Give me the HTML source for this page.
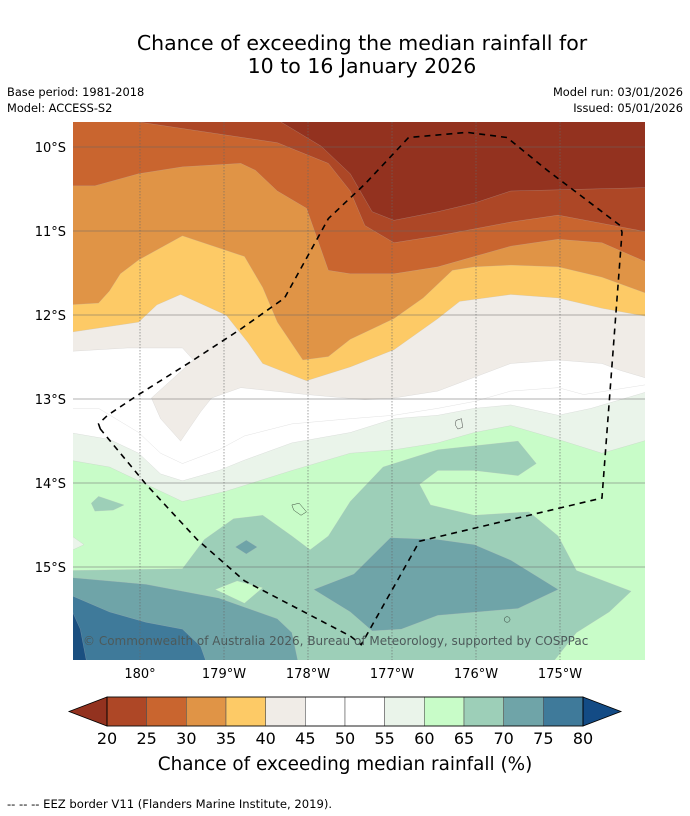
<!DOCTYPE html>
<html><head><meta charset="utf-8">
<style>
body{margin:0;background:#fff;width:690px;height:816px;overflow:hidden;font-family:"Liberation Sans","DejaVu Sans",sans-serif;}
svg{display:block}
text{font-family:"DejaVu Sans","Liberation Sans",sans-serif;fill:#000}
</style></head>
<body>
<svg id="fig" width="690" height="816" viewBox="0 0 690 816">
<text x="362" y="50" font-size="20.5" text-anchor="middle">Chance of exceeding the median rainfall for</text>
<text x="362" y="73" font-size="20.5" text-anchor="middle">10 to 16 January 2026</text>
<text x="7" y="96" font-size="11.4">Base period: 1981-2018</text>
<text x="7" y="112" font-size="11.4">Model: ACCESS-S2</text>
<text x="683" y="96" font-size="11.4" text-anchor="end">Model run: 03/01/2026</text>
<text x="683" y="112" font-size="11.4" text-anchor="end">Issued: 05/01/2026</text>

<defs><clipPath id="mc"><rect x="73" y="122" width="572" height="538"/></clipPath></defs>
<g clip-path="url(#mc)">
 <g transform="translate(73,122) scale(0.3648,0.3450)" stroke="#bbb" stroke-width="0.6" vector-effect="non-scaling-stroke">
  <rect x="-10" y="-10" width="1600" height="1600" fill="#c8fcc8"/>
  <path fill="#eaf4ea" d="M-10,-10 L-10,980 L100,1000 L180,1040 L300,1100 L420,1070 L600,1010 L760,960 L880,950 L1000,930 L1100,900 L1200,880 L1330,920 L1450,960 L1580,920 L1580,-10Z"/>
  <path fill="#eaf4ea" d="M-10,1195 L30,1225 L-10,1245Z"/>
  <path fill="#ffffff" d="M-10,-10 L-10,900 L100,920 L180,960 L240,1020 L300,1040 L400,1010 L470,980 L600,930 L760,900 L880,860 L1000,850 L1100,830 L1200,820 L1330,850 L1420,830 L1580,780 L1580,-10Z"/>
  <path fill="none" d="M-10,830 L70,830 L180,900 L240,960 L300,990 L400,950 L470,910 L600,875 L760,860 L880,850 L1000,830 L1100,810 L1200,780 L1330,770 L1400,790 L1580,760"/>
  <path fill="#f0ece7" d="M-10,-10 L-10,665 L150,655 L300,655 L330,690 L215,800 L240,860 L295,925 L350,840 L380,800 L460,770 L640,790 L800,805 L880,800 L1000,780 L1100,740 L1200,700 L1330,690 L1450,700 L1500,720 L1580,745 L1580,-10Z"/>
  <path fill="#fdca66" d="M-10,-10 L-10,610 L180,580 L230,530 L295,500 L420,560 L480,640 L520,700 L640,750 L760,710 L880,660 L1000,570 L1060,520 L1200,500 L1330,510 L1450,540 L1580,565 L1580,-10Z"/>
  <path fill="#e09446" d="M-10,-10 L-10,530 L70,525 L100,490 L130,440 L180,400 L300,330 L470,390 L520,480 L560,580 L630,690 L700,680 L760,630 L880,570 L960,510 L1040,430 L1100,420 L1200,415 L1330,420 L1450,450 L1580,500 L1580,-10Z"/>
  <path fill="#c9652f" d="M-10,-10 L-10,185 L60,185 L180,150 L300,130 L460,120 L500,140 L560,200 L640,250 L700,430 L760,440 L880,440 L1000,420 L1100,390 L1200,360 L1330,340 L1450,350 L1580,410 L1580,-10Z"/>
  <path fill="#ad4726" d="M180,-10 L180,0 L560,60 L700,120 L760,200 L800,300 L880,350 L1000,330 L1100,310 L1200,290 L1330,270 L1580,320 L1580,-10Z"/>
  <path fill="#93321f" d="M570,-10 L570,0 L680,70 L760,150 L820,260 L880,285 L1000,260 L1100,235 L1200,200 L1580,190 L1580,-10Z"/>
  <path fill="#9dcfb8" d="M-10,1300 L300,1295 L360,1210 L440,1150 L520,1140 L600,1200 L650,1240 L700,1200 L760,1100 L850,1000 L1000,950 L1220,925 L1270,990 L1220,1025 L1100,1010 L1000,1010 L950,1050 L980,1110 L1100,1140 L1250,1130 L1330,1200 L1380,1300 L1530,1360 L1470,1420 L1380,1480 L1320,1560 L1310,1580 L-10,1580Z"/>
  <path fill="#c8fcc8" d="M390,1355 L450,1330 L520,1350 L470,1395Z"/>
  <path fill="#9dcfb8" d="M50,1105 L70,1085 L140,1110 L110,1125 L60,1128Z"/>
  <path fill="#6fa4a8" d="M-10,1320 L200,1340 L400,1380 L560,1440 L600,1480 L620,1580 L-10,1580Z"/>
  <path fill="#6fa4a8" d="M660,1355 L770,1310 L870,1205 L1000,1210 L1100,1225 L1200,1270 L1330,1355 L1220,1410 L1000,1430 L900,1470 L820,1475 L760,1420Z"/>
  <path fill="#6fa4a8" d="M445,1232 L475,1212 L505,1232 L475,1252Z"/>
  <path fill="#3f7a9a" d="M-10,1370 L100,1420 L200,1450 L300,1470 L350,1520 L370,1580 L-10,1580Z"/>
  <path fill="#1a4f80" d="M-10,1400 L20,1470 L40,1580 L-10,1580Z"/>
  <g fill="none" stroke="#000" stroke-width="1">
   <path d="M600,1110 L620,1105 L640,1130 L625,1140 L605,1125Z"/>
   <path d="M1050,865 L1065,860 L1068,885 L1055,890 L1048,878Z"/>
   <circle cx="1190" cy="1442" r="8"/>
  </g>
 </g>
 <g stroke="#666" stroke-width="0.6">
  <g stroke-dasharray="1.5,1.5">
   <line x1="140" y1="122" x2="140" y2="660"/><line x1="224" y1="122" x2="224" y2="660"/><line x1="308" y1="122" x2="308" y2="660"/><line x1="392" y1="122" x2="392" y2="660"/><line x1="476" y1="122" x2="476" y2="660"/><line x1="560" y1="122" x2="560" y2="660"/>
  </g>
  <line x1="73" y1="147" x2="645" y2="147"/><line x1="73" y1="231" x2="645" y2="231"/><line x1="73" y1="315" x2="645" y2="315"/><line x1="73" y1="399" x2="645" y2="399"/><line x1="73" y1="483" x2="645" y2="483"/><line x1="73" y1="567" x2="645" y2="567"/>
 </g>
 <g transform="translate(73,122) scale(0.3648,0.3450)">
  <path fill="none" stroke="#000" stroke-width="1.6" stroke-dasharray="6,5" vector-effect="non-scaling-stroke" d="M75,890 L70,875 L95,850 L180,790 L330,690 L460,600 L580,510 L700,280 L800,180 L920,45 L1080,30 L1190,45 L1300,140 L1500,300 L1505,320 L1450,1090 L950,1215 L790,1515 L760,1490 L470,1330 L340,1210 L200,1050 L75,890"/>
 </g>
 <text x="83" y="645" font-size="12" style="fill:#4d5a5a">© Commonwealth of Australia 2026, Bureau of Meteorology, supported by COSPPac</text>
</g>

<g font-size="13">
 <text x="66" y="152" text-anchor="end">10°S</text><text x="66" y="236" text-anchor="end">11°S</text><text x="66" y="320" text-anchor="end">12°S</text><text x="66" y="404" text-anchor="end">13°S</text><text x="66" y="488" text-anchor="end">14°S</text><text x="66" y="572" text-anchor="end">15°S</text>
</g>
<g font-size="13" text-anchor="middle">
 <text x="140" y="678">180°</text><text x="224" y="678">179°W</text><text x="308" y="678">178°W</text><text x="392" y="678">177°W</text><text x="476" y="678">176°W</text><text x="560" y="678">175°W</text>
</g>

<g id="cbar"></g>
<text x="345" y="770" font-size="18.4" text-anchor="middle">Chance of exceeding median rainfall (%)</text>
<text x="7" y="808" font-size="11.6">--  --  -- EEZ border V11 (Flanders Marine Institute, 2019).</text>
</svg>
<script>
const levels = [20,25,30,35,40,45,50,55,60,65,70,75,80];
const binColors = ["#ae4726","#c9652f","#e09446","#fdca66","#f0ece7","#ffffff","#ffffff","#eaf4ea","#c8fcc8","#9dcfb8","#6fa4a8","#3f7a9a"];
const extendColors = ["#93321f","#134b85"];
const NS="http://www.w3.org/2000/svg";
const cb=document.getElementById('cbar');
const x0=107,x1=583,y0=697,h=29;
function sx(v){return x0+(v-levels[0])/(levels[levels.length-1]-levels[0])*(x1-x0);}
binColors.forEach((c,i)=>{
 const r=document.createElementNS(NS,'rect');
 r.setAttribute('x',sx(levels[i]));r.setAttribute('y',y0);r.setAttribute('width',sx(levels[i+1])-sx(levels[i]));r.setAttribute('height',h);
 r.setAttribute('fill',c);r.setAttribute('stroke','#555');r.setAttribute('stroke-width','0.6');
 
 
 cb.appendChild(r);
});
const tl=document.createElementNS(NS,'polygon');
tl.setAttribute('points',`${x0},${y0} ${x0-38},${y0+h/2} ${x0},${y0+h}`);tl.setAttribute('fill',extendColors[0]);tl.setAttribute('stroke','#000');tl.setAttribute('stroke-width','0.8');


cb.appendChild(tl);
const tr=document.createElementNS(NS,'polygon');
tr.setAttribute('points',`${x1},${y0} ${x1+38},${y0+h/2} ${x1},${y0+h}`);tr.setAttribute('fill',extendColors[1]);tr.setAttribute('stroke','#000');tr.setAttribute('stroke-width','0.8');


cb.appendChild(tr);
const outline=document.createElementNS(NS,'rect');
outline.setAttribute('x',x0);outline.setAttribute('y',y0);outline.setAttribute('width',x1-x0);outline.setAttribute('height',h);outline.setAttribute('fill','none');outline.setAttribute('stroke','#000');outline.setAttribute('stroke-width','0.8');


cb.appendChild(outline);
levels.forEach(v=>{
 const t=document.createElementNS(NS,'text');
 t.setAttribute('x',sx(v));t.setAttribute('y',744);t.setAttribute('font-size','16');t.setAttribute('text-anchor','middle');
 t.textContent=v;
 
 
 cb.appendChild(t);
});
</script>
</body></html>
